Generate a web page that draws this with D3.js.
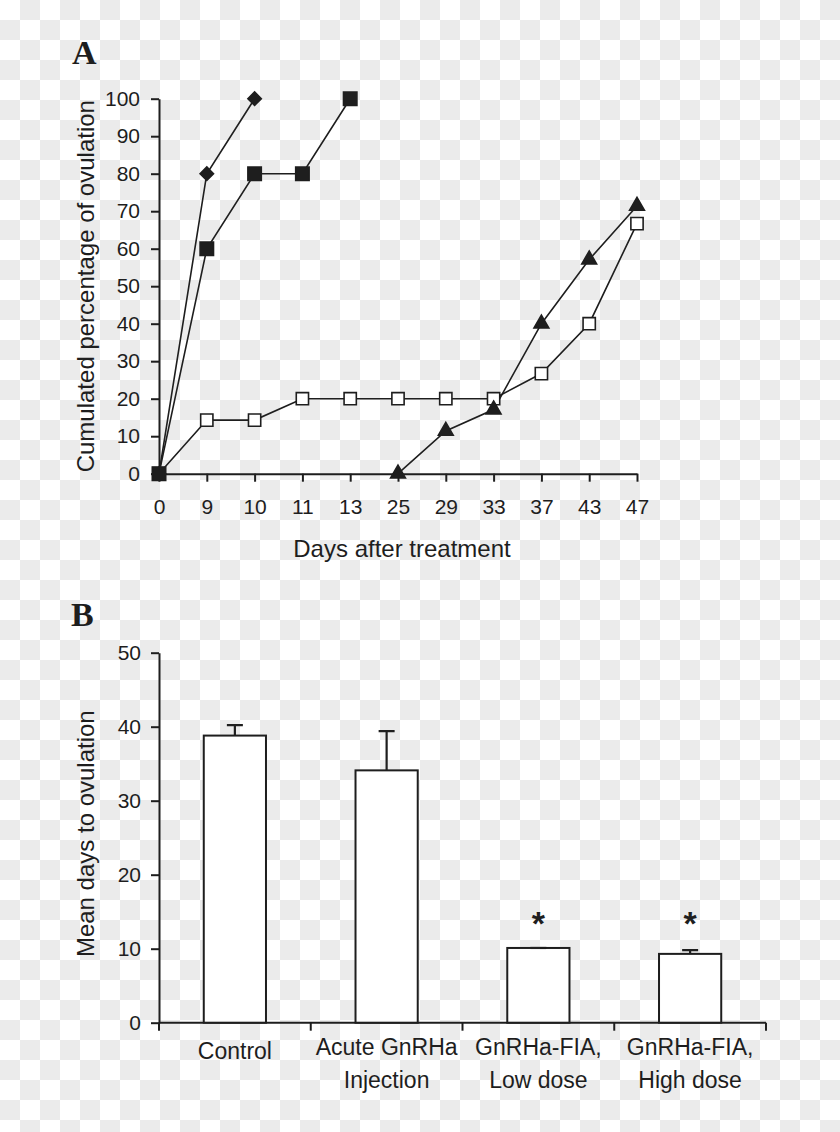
<!DOCTYPE html>
<html>
<head>
<meta charset="utf-8">
<script src="https://cdn.jsdelivr.net/npm/d3@7"></script>
<style>
  body { margin: 0; }
  svg { display: block; }
  text { font-family: "Liberation Sans", Arial, sans-serif; fill: #1e1e1e; }
</style>
</head>
<body>
<svg id="chart" width="840" height="1132"></svg>
<script>
// ---- panel A data ----
const dayTicks = ['0', '9', '10', '11', '13', '25', '29', '33', '37', '43', '47'];
const pctTicks = [0, 10, 20, 30, 40, 50, 60, 70, 80, 90, 100];

const diamondDays = ['0', '9', '10'];
const diamondPct = [0, 80, 100];
const filledSqDays = ['0', '9', '10', '11', '13'];
const filledSqPct = [0, 60, 80, 80, 100];
const openSqDays = ['0', '9', '10', '11', '13', '25', '29', '33', '37', '43', '47'];
const openSqPct = [0, 14.3, 14.3, 20, 20, 20, 20, 20, 26.7, 40, 66.7];
const triangleDays = ['25', '29', '33', '37', '43', '47'];
const trianglePct = [0, 11.4, 17.1, 40, 57.1, 71.4];

// ---- panel B data ----
const groups = ['Control', 'Acute GnRHa Injection', 'GnRHa-FIA, Low dose', 'GnRHa-FIA, High dose'];
const groupLines = [['Control'], ['Acute GnRHa', 'Injection'], ['GnRHa-FIA,', 'Low dose'], ['GnRHa-FIA,', 'High dose']];
const meanDays = [38.8, 34.1, 10.1, 9.3];
const semDays = [1.4, 5.3, 0, 0.5];
const significant = [false, false, true, true];
const starLevel = 14.5;
const daysTicks = [0, 10, 20, 30, 40, 50];

const svg = d3.select('#chart');
const ink = '#1e1e1e';

// checkerboard backdrop
const defs = svg.append('defs');
const pat = defs.append('pattern')
  .attr('id', 'checker')
  .attr('width', 40).attr('height', 40)
  .attr('patternUnits', 'userSpaceOnUse');
pat.append('rect').attr('width', 40).attr('height', 40).attr('fill', '#ffffff');
pat.append('rect').attr('x', 20).attr('y', 0).attr('width', 20).attr('height', 20).attr('fill', '#ebebeb');
pat.append('rect').attr('x', 0).attr('y', 20).attr('width', 20).attr('height', 20).attr('fill', '#ebebeb');
svg.append('rect').attr('width', 840).attr('height', 1132).attr('fill', 'url(#checker)');

function styleAxis(g) {
  g.selectAll('.domain').attr('stroke', ink).attr('stroke-width', 2);
  g.selectAll('.tick line').attr('stroke', ink).attr('stroke-width', 2);
  g.selectAll('.tick text')
    .attr('font-family', '"Liberation Sans", Arial, sans-serif')
    .attr('font-size', 21).attr('fill', ink);
}

// ================= Panel A =================
const xA = d3.scalePoint().domain(dayTicks).range([159, 637]);
const yA = d3.scaleLinear().domain([0, 100]).range([473.7, 98.7]);

svg.append('text')
  .attr('x', 72).attr('y', 64)
  .style('font-family', '"Liberation Serif", "Times New Roman", serif')
  .style('font-weight', 'bold').style('font-size', '34px')
  .text('A');

const gA = svg.append('g');

gA.append('g')
  .attr('transform', `translate(0,${yA(0)})`)
  .call(d3.axisBottom(xA).tickSize(8).tickSizeOuter(0).tickPadding(17))
  .call(styleAxis);

gA.append('g')
  .attr('transform', `translate(${xA('0')},0)`)
  .call(d3.axisLeft(yA).tickValues(pctTicks).tickSize(8).tickSizeOuter(0).tickPadding(11))
  .call(styleAxis);

gA.append('text')
  .attr('transform', `translate(94,${(yA(0) + yA(100)) / 2}) rotate(-90)`)
  .attr('text-anchor', 'middle')
  .style('font-size', '24px')
  .text('Cumulated percentage of ovulation');

gA.append('text')
  .attr('x', 402).attr('y', 557)
  .attr('text-anchor', 'middle')
  .style('font-size', '24px')
  .text('Days after treatment');

const line = d3.line().x(d => xA(d[0])).y(d => yA(d[1]));
const zipped = (ds, vs) => ds.map((d, i) => [d, vs[i]]);

const seriesA = [
  { pts: zipped(openSqDays, openSqPct), sym: d3.symbolSquare, size: 150, fill: '#ffffff', rot: 0 },
  { pts: zipped(triangleDays, trianglePct), sym: d3.symbolTriangle, size: 95, fill: ink, rot: 0 },
  { pts: zipped(diamondDays, diamondPct), sym: d3.symbolSquare, size: 90, fill: ink, rot: 45 },
  { pts: zipped(filledSqDays, filledSqPct), sym: d3.symbolSquare, size: 180, fill: ink, rot: 0 }
];

seriesA.forEach(s => {
  gA.append('path')
    .datum(s.pts)
    .attr('fill', 'none')
    .attr('stroke', ink)
    .attr('stroke-width', 1.6)
    .attr('d', line);
});

seriesA.forEach(s => {
  gA.selectAll(null)
    .data(s.pts)
    .enter().append('path')
    .attr('transform', d => `translate(${xA(d[0])},${yA(d[1])}) rotate(${s.rot})`)
    .attr('d', d3.symbol().type(s.sym).size(s.size))
    .attr('fill', s.fill)
    .attr('stroke', ink)
    .attr('stroke-width', 1.6);
});

// ================= Panel B =================
const xB = d3.scaleBand().domain(groups).range([159, 766]);
const yB = d3.scaleLinear().domain([0, 50]).range([1022.7, 652.7]);
const barW = xB.bandwidth() * 0.41;

svg.append('text')
  .attr('x', 71).attr('y', 626)
  .style('font-family', '"Liberation Serif", "Times New Roman", serif')
  .style('font-weight', 'bold').style('font-size', '34px')
  .text('B');

const gB = svg.append('g');

gB.append('g')
  .attr('transform', `translate(${xB.range()[0]},0)`)
  .call(d3.axisLeft(yB).tickValues(daysTicks).tickSize(8).tickSizeOuter(0).tickPadding(10))
  .call(styleAxis);

// x axis: line with ticks at the band edges
const edges = groups.map(g => xB(g)).concat([xB.range()[1]]);
gB.append('line')
  .attr('x1', xB.range()[0]).attr('x2', xB.range()[1])
  .attr('y1', yB(0)).attr('y2', yB(0))
  .attr('stroke', ink).attr('stroke-width', 2);
gB.selectAll('.edge')
  .data(edges)
  .enter().append('line')
  .attr('x1', d => d).attr('x2', d => d)
  .attr('y1', yB(0)).attr('y2', yB(0) + 8)
  .attr('stroke', ink).attr('stroke-width', 2);

// bars
const bars = groups.map((g, i) => ({ g, mean: meanDays[i], sem: semDays[i], sig: significant[i], lines: groupLines[i] }));
const cx = d => xB(d.g) + xB.bandwidth() / 2;

gB.selectAll('.bar')
  .data(bars)
  .enter().append('rect')
  .attr('x', d => cx(d) - barW / 2)
  .attr('y', d => yB(d.mean))
  .attr('width', barW)
  .attr('height', d => yB(0) - yB(d.mean))
  .attr('fill', '#ffffff')
  .attr('stroke', ink)
  .attr('stroke-width', 2);

// error bars (upper only)
gB.selectAll('.err')
  .data(bars)
  .enter().append('path')
  .attr('d', d => `M${cx(d)},${yB(d.mean)}V${yB(d.mean + d.sem)}M${cx(d) - 8},${yB(d.mean + d.sem)}H${cx(d) + 8}`)
  .attr('fill', 'none')
  .attr('stroke', ink)
  .attr('stroke-width', 2.2);

// significance stars
gB.selectAll('.star')
  .data(bars.filter(d => d.sig))
  .enter().append('text')
  .attr('x', cx)
  .attr('y', yB(starLevel))
  .attr('dy', '0.575em')
  .attr('text-anchor', 'middle')
  .style('font-size', '34px')
  .style('font-weight', 'bold')
  .text('*');

// category labels
bars.forEach(d => {
  const t = gB.append('text')
    .attr('text-anchor', 'middle')
    .style('font-size', '23px');
  if (d.lines.length === 1) {
    t.append('tspan').attr('x', cx(d)).attr('y', yB(0) + 36).text(d.lines[0]);
  } else {
    d.lines.forEach((l, j) => {
      t.append('tspan').attr('x', cx(d)).attr('y', yB(0) + 32 + j * 33).text(l);
    });
  }
});

gB.append('text')
  .attr('transform', `translate(94,${(yB(0) + yB(50)) / 2 - 4}) rotate(-90)`)
  .attr('text-anchor', 'middle')
  .style('font-size', '24px')
  .text('Mean days to ovulation');
</script>
</body>
</html>
